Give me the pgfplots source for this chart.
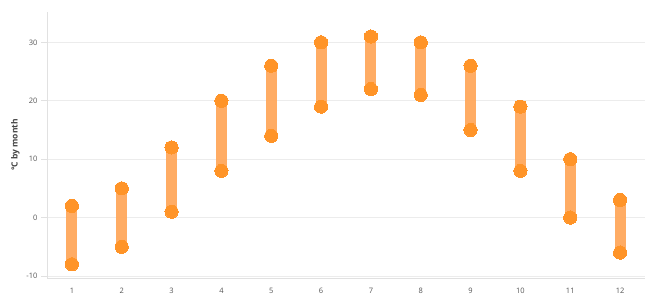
\documentclass[border=0pt]{standalone}
\usepackage{pgfplots}
\pgfplotsset{compat=1.18}
\usepackage{fontspec}
\setmainfont{Open Sans}
\definecolor{barc}{RGB}{255,168,92}
\definecolor{dotc}{RGB}{255,148,40}
\definecolor{gridc}{RGB}{236,236,236}
\definecolor{axc}{RGB}{225,225,225}
\definecolor{tickc}{RGB}{85,85,85}
\begin{document}
\begin{tikzpicture}
\begin{axis}[
  scale only axis, width=598bp, height=266bp,
  xmin=0.5, xmax=12.5, ymin=-10.35, ymax=35.2,
  axis lines*=left,
  axis line style={axc, line width=0.8bp},
  xtick={1,...,12}, ytick={-10,0,10,20,30},
  ymajorgrids, grid style={gridc, line width=0.8bp},
  x tick style={draw=none},
  y tick style={axc, line width=0.8bp},
  major tick length=6bp,
  tick align=outside,
  ticklabel style={font=\fontsize{7.5bp}{9bp}\selectfont, text=tickc},
  /pgf/number format/assume math mode=true,
  xticklabel style={yshift=-1bp},
  ylabel={\textbf{\textdegree C by month}},
  ylabel style={font=\fontsize{8.5bp}{10bp}\selectfont, text=tickc!80!black},
  unbounded coords=jump,
  clip=false,
]
\addplot[barc, line width=11bp, opacity=0.95] coordinates {
(1,-8) (1,2) (1,nan)
(2,-5) (2,5) (2,nan)
(3,1) (3,12) (3,nan)
(4,8) (4,20) (4,nan)
(5,14) (5,26) (5,nan)
(6,19) (6,30) (6,nan)
(7,22) (7,31) (7,nan)
(8,21) (8,30) (8,nan)
(9,15) (9,26) (9,nan)
(10,8) (10,19) (10,nan)
(11,0) (11,10) (11,nan)
(12,-6) (12,3)
};
\addplot[dotc, only marks, mark=*, mark size=6.6bp, mark options={draw=dotc, fill=dotc, line width=0pt}] coordinates {
(1,-8) (2,-5) (3,1) (4,8) (5,14) (6,19) (7,22) (8,21) (9,15) (10,8) (11,0) (12,-6)
};
\addplot[dotc, only marks, mark=*, mark size=6.6bp, mark options={draw=dotc, fill=dotc, line width=0pt}] coordinates {
(1,2) (2,5) (3,12) (4,20) (5,26) (6,30) (7,31) (8,30) (9,26) (10,19) (11,10) (12,3)
};
\end{axis}
\pgfresetboundingbox
\useasboundingbox ([shift={(-47bp,-22bp)}]current axis.south west) rectangle ([shift={(5bp,12bp)}]current axis.north east);
\end{tikzpicture}
\end{document}
